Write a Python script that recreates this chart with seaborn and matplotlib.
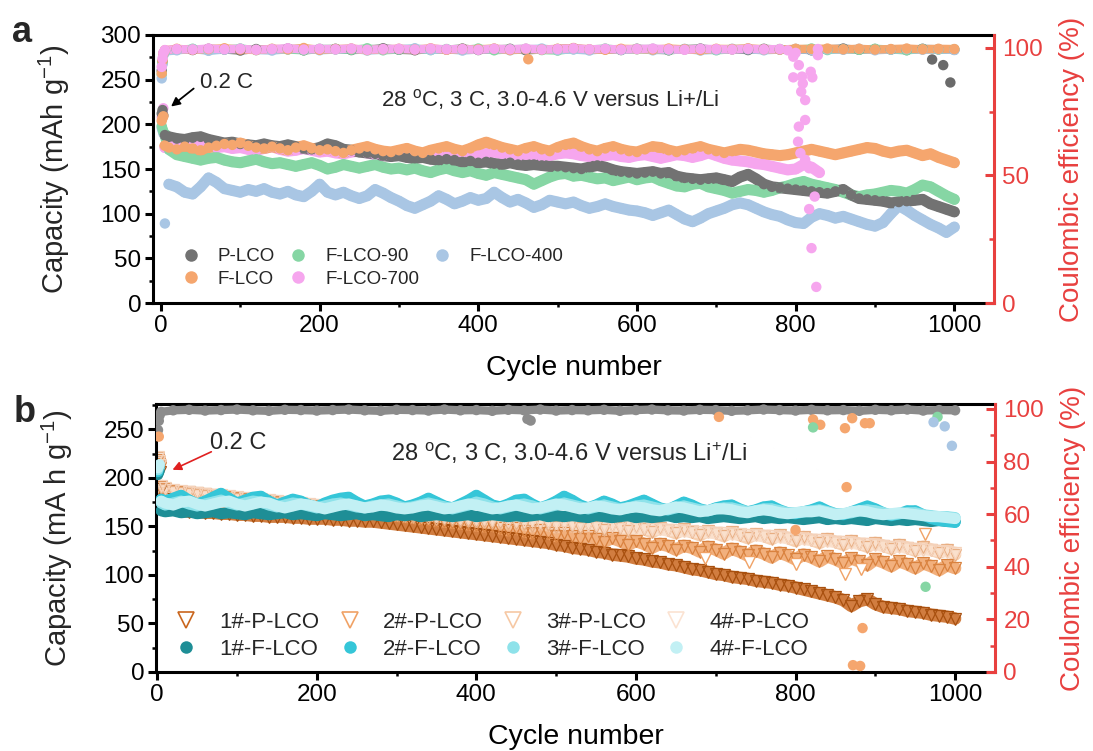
import matplotlib
matplotlib.use("Agg")
import matplotlib.pyplot as plt
from matplotlib.lines import Line2D
from matplotlib.ticker import MultipleLocator
import seaborn as sns

# ---------------- data : panel a ----------------
CYC_A = [1, 2, 3, 5, 10] + list(range(20, 1001, 10))
CYC_A700 = [1, 2, 3, 5, 10] + list(range(20, 831, 10))

P_LCO = [212, 216, 210, 188, 186,
         184, 183, 185, 186, 183, 181, 179, 180, 178, 177,
         176, 178, 176, 175, 177, 175, 173, 172, 174, 178,
         176, 172, 171, 169, 168, 167, 165, 164, 165, 163,
         162, 163, 161, 160, 161, 160, 158, 159, 157, 158,
         156, 155, 157, 155, 154, 155, 154, 153, 153, 152,
         151, 150, 152, 154, 152, 149, 147, 146, 145, 146,
         147, 145, 146, 142, 140, 139, 138, 139, 140, 138,
         136, 141, 144, 139, 133, 130, 129, 128, 127, 126,
         125, 124, 123, 125, 127, 121, 117, 116, 115, 114,
         112, 113, 114, 115, 116, 111, 108, 105, 102]
F_LCO = [204, 207, 209, 176, 174,
         172, 175, 173, 171, 174, 176, 178, 177, 179, 176,
         174, 173, 175, 173, 171, 174, 176, 173, 171, 172,
         170, 168, 171, 173, 175, 172, 170, 169, 171, 173,
         170, 168, 171, 173, 175, 172, 170, 173, 177, 180,
         177, 174, 172, 170, 173, 175, 172, 170, 174, 177,
         179, 175, 172, 170, 173, 175, 172, 170, 169, 172,
         175, 174, 171, 169, 171, 173, 175, 172, 170, 168,
         170, 172, 171, 169, 167, 166, 165, 166, 168, 170,
         172, 170, 168, 166, 168, 170, 172, 174, 173, 170,
         168, 170, 171, 168, 165, 167, 163, 160, 157]
F_LCO_90 = [198, 195, 192, 189, 172,
            166, 164, 162, 160, 162, 163, 160, 158, 157, 159,
            161, 158, 156, 157, 155, 153, 155, 157, 154, 150,
            152, 155, 153, 151, 153, 155, 152, 150, 151, 149,
            151, 148, 146, 149, 151, 148, 146, 148, 145, 143,
            146, 144, 142, 140, 138, 133, 137, 141, 144, 145,
            142, 143, 141, 139, 140, 137, 139, 141, 138, 140,
            141, 137, 134, 131, 130, 133, 134, 130, 128, 126,
            123, 125, 127, 126, 124, 126, 129, 131, 134, 136,
            133, 131, 129, 127, 124, 121, 119, 121, 122, 124,
            126, 125, 123, 127, 132, 130, 125, 120, 116]
F_LCO_400 = [196, 193, 190, 89, 133,
             130, 124, 122, 130, 140, 135, 128, 126, 124, 127,
             125, 128, 124, 122, 125, 121, 119, 125, 133, 124,
             121, 124, 120, 117, 120, 127, 123, 118, 114, 109,
             106, 110, 114, 120, 116, 111, 114, 118, 115, 117,
             124, 118, 113, 116, 112, 107, 110, 115, 113, 111,
             113, 109, 106, 108, 111, 108, 106, 104, 103, 101,
             98, 101, 104, 99, 94, 91, 95, 100, 103, 106,
             110, 112, 110, 106, 102, 99, 97, 93, 90, 89,
             96, 100, 98, 95, 97, 94, 91, 88, 86, 90,
             100, 109, 104, 98, 93, 88, 84, 79, 85]
F_LCO_700 = [208, 214, 218, 174, 176,
             178, 181, 183, 179, 176, 174, 175, 173, 174, 172,
             171, 173, 175, 172, 170, 171, 173, 171, 169, 170,
             168, 167, 169, 170, 168, 166, 165, 167, 169, 167,
             165, 166, 168, 166, 164, 166, 168, 167, 165, 167,
             169, 167, 165, 164, 166, 165, 164, 165, 167, 168,
             167, 165, 164, 163, 165, 166, 164, 163, 165, 166,
             164, 162, 164, 166, 165, 163, 165, 168, 165, 162,
             160, 159, 158, 156, 155, 153, 151, 149, 150, 155,
             152, 146]

CE_CYC_A = [1, 2, 3, 5] + list(range(20, 1001, 20))
CE_CYC_A700 = [1, 2, 3, 5] + list(range(20, 781, 20))
CE_P_A = [91.0, 94.5, 97.5, 98.8,
          99.4, 99.1, 99.6, 99.3, 98.9, 99.5, 99.2, 99.7, 99.0, 99.4,
          99.6, 99.1, 99.3, 99.8, 99.2, 99.0, 99.5, 99.3, 99.7, 99.1,
          99.4, 99.6, 99.0, 99.3, 99.5, 99.8, 99.2, 99.4, 99.1, 99.6,
          99.3, 99.0, 99.5, 99.7, 99.2, 99.4, 99.1, 99.6, 99.3, 99.5,
          99.0, 99.4, 99.7, 99.2, 99.5, 99.3, 99.1, 99.6, 99.4, 99.2]
CE_F_A = [90.0, 95.0, 97.8, 99.0,
          99.6, 99.2, 99.5, 99.8, 99.3, 99.1, 99.6, 99.4, 99.9, 99.2,
          99.5, 99.7, 99.1, 99.4, 99.6, 99.3, 99.8, 99.2, 99.5, 99.4,
          99.7, 99.1, 99.5, 99.3, 99.6, 99.9, 99.4, 99.2, 99.6, 99.5,
          99.3, 99.7, 99.4, 99.1, 99.6, 99.5, 99.8, 99.4, 99.3, 99.6,
          99.5, 99.7, 99.4, 99.6, 99.3, 99.5, 99.7, 99.4, 99.6, 99.5]
CE_90_A = [89.5, 94.0, 97.2, 98.6,
           99.2, 99.6, 99.0, 99.4, 99.7, 99.1, 99.5, 99.3, 99.0, 99.6,
           99.4, 99.2, 99.8, 99.0, 99.3, 99.6, 99.1, 99.5, 99.2, 99.7,
           99.0, 99.4, 99.6, 99.1, 98.9, 99.5, 99.3, 99.7, 99.2, 99.4,
           99.6, 99.1, 99.3, 99.5, 99.0, 99.4, 99.6, 99.2, 99.5, 99.3,
           99.7, 99.1, 99.4, 99.2, 99.6, 99.3, 99.0, 99.5, 99.3, 99.4]
CE_400_A = [88.0, 93.5, 97.0, 98.5,
            99.0, 99.5, 98.8, 99.3, 99.6, 99.1, 98.9, 99.4, 99.7, 99.0,
            99.3, 99.6, 98.9, 99.2, 99.5, 99.8, 99.1, 99.4, 98.9, 99.3,
            99.6, 99.0, 99.4, 99.7, 99.1, 99.3, 98.9, 99.5, 99.2, 99.6,
            99.0, 99.3, 99.5, 98.9, 99.2, 99.6, 99.4, 99.0, 99.3, 99.5,
            99.1, 99.4, 99.2, 99.6, 99.0, 99.3, 99.5, 99.2, 99.4, 99.1]
CE_700_A = [92.5, 95.8, 98.0, 99.1,
            99.5, 99.3, 99.7, 99.4, 99.6, 99.2, 99.5, 99.8, 99.3, 99.6,
            99.4, 99.7, 99.2, 99.5, 99.6, 99.3, 99.7, 99.4, 99.5, 99.2,
            99.6, 99.4, 99.7, 99.3, 99.5, 99.8, 99.4, 99.6, 99.3, 99.5,
            99.7, 99.4, 99.2, 99.6, 99.5, 99.3, 99.6, 99.4, 99.5]
CE_700_DROP_CYC = [790, 797, 797, 800, 803, 804, 804, 806, 807, 808, 809, 812,
                   812, 812, 817, 817, 819, 820, 821, 824, 826, 828, 828]
CE_700_DROP = [99.0, 96.5, 88.4, 98.0, 63.2, 93.2, 69.1, 58.7, 82.8, 88.7, 86.0, 79.5,
               71.7, 56.1, 52.8, 36.8, 90.6, 21.5, 88.4, 41.7, 6.3, 97.1, 99.5]
CE_P_OUT_CYC = [972, 986, 995]
CE_P_OUT = [95.4, 93.2, 86.4]
CE_F_OUT_CYC = [463]
CE_F_OUT = [95.5]

# ---------------- data : panel b ----------------
CYC_B = [1, 2, 3, 5, 10] + list(range(20, 1001, 10))
P1 = [214, 210, 206, 188, 178,
      168, 166, 165, 165, 164, 164, 163, 163, 162, 162,
      161, 161, 160, 160, 160, 159, 159, 158, 158, 158,
      157, 157, 156, 156, 155, 155, 154, 153, 152, 151,
      150, 149, 148, 147, 146, 145, 144, 143, 142, 141,
      140, 139, 138, 137, 136, 135, 134, 133, 131, 130,
      128, 127, 126, 124, 123, 121, 120, 119, 117, 116,
      114, 113, 111, 110, 108, 106, 105, 103, 101, 100,
      98, 97, 96, 94, 93, 92, 90, 89, 87, 85,
      83, 81, 79, 77, 74, 68, 73, 75, 70, 67,
      66, 65, 63, 62, 61, 59, 58, 57, 55]
P2 = [218, 214, 210, 191, 188,
      186, 185, 185, 184, 183, 182, 181, 180, 179, 178,
      177, 176, 176, 175, 174, 173, 172, 172, 171, 170,
      169, 168, 167, 166, 165, 164, 163, 162, 161, 160,
      159, 158, 157, 156, 155, 154, 153, 152, 151, 150,
      151, 148, 146, 148, 145, 143, 146, 143, 140, 143,
      140, 137, 140, 137, 134, 138, 135, 131, 135, 132,
      128, 132, 130, 126, 130, 128, 124, 129, 126, 122,
      127, 124, 120, 125, 122, 118, 123, 120, 116, 121,
      118, 114, 119, 116, 112, 117, 114, 110, 116, 113,
      109, 114, 111, 107, 112, 109, 105, 110, 107]
P3 = [220, 216, 212, 190, 187,
      185, 184, 183, 182, 181, 180, 180, 179, 178, 177,
      176, 176, 175, 174, 173, 173, 172, 171, 170, 169,
      168, 168, 167, 166, 165, 164, 163, 163, 162, 161,
      160, 160, 159, 158, 158, 157, 156, 156, 155, 155,
      154, 154, 153, 153, 152, 150, 153, 151, 149, 152,
      150, 148, 151, 149, 146, 150, 148, 145, 149, 147,
      144, 148, 146, 143, 147, 144, 141, 145, 143, 140,
      144, 141, 138, 142, 140, 137, 141, 138, 135, 139,
      136, 133, 137, 134, 131, 135, 132, 129, 133, 130,
      127, 131, 128, 125, 129, 126, 123, 126, 121]
P4 = [221, 217, 213, 192, 189,
      187, 186, 185, 184, 183, 182, 182, 181, 180, 179,
      178, 178, 177, 176, 175, 175, 174, 173, 172, 171,
      170, 170, 169, 168, 167, 166, 166, 165, 164, 164,
      163, 162, 162, 161, 160, 160, 159, 159, 158, 158,
      157, 157, 156, 156, 155, 155, 154, 154, 153, 153,
      152, 152, 151, 151, 150, 150, 149, 149, 148, 148,
      147, 147, 146, 146, 145, 145, 144, 144, 143, 143,
      142, 142, 141, 141, 140, 140, 139, 138, 138, 137,
      136, 136, 135, 134, 134, 133, 132, 132, 131, 130,
      129, 129, 128, 127, 126, 126, 125, 124, 123]
P2_OUT_CYC = [687, 742, 800, 862, 882, 962]
P2_OUT = [117, 113, 111, 101, 106, 142]
F1 = [203, 205, 207, 166, 165,
      166, 164, 165, 163, 164, 165, 163, 164, 163, 162,
      164, 163, 162, 163, 164, 162, 163, 162, 161, 163,
      162, 161, 162, 163, 161, 162, 161, 160, 162, 161,
      162, 160, 161, 162, 161, 160, 161, 162, 160, 161,
      162, 161, 160, 161, 160, 161, 162, 160, 161, 160,
      161, 160, 159, 161, 160, 159, 160, 161, 159, 160,
      159, 160, 161, 159, 160, 159, 160, 158, 159, 160,
      159, 158, 159, 160, 158, 159, 158, 159, 158, 157,
      158, 159, 157, 158, 157, 158, 157, 156, 158, 157,
      156, 157, 156, 157, 156, 155, 156, 155, 155]
F2 = [206, 209, 211, 178, 176,
      179, 182, 177, 173, 176, 180, 184, 179, 174, 177,
      180, 181, 176, 172, 175, 178, 176, 172, 170, 174,
      177, 179, 180, 175, 171, 173, 176, 177, 174, 170,
      172, 175, 179, 175, 171, 169, 173, 177, 182, 177,
      172, 170, 173, 177, 178, 173, 169, 172, 176, 181,
      177, 172, 169, 172, 176, 173, 169, 171, 174, 177,
      173, 169, 167, 171, 175, 172, 168, 166, 169, 171,
      172, 168, 165, 167, 170, 171, 167, 164, 163, 165,
      167, 170, 166, 163, 162, 165, 168, 171, 168, 164,
      161, 163, 166, 166, 162, 158, 156, 155, 154]
F3 = [208, 211, 213, 174, 172,
      174, 176, 173, 171, 173, 175, 177, 174, 172, 174,
      176, 175, 172, 170, 172, 174, 173, 171, 169, 171,
      173, 174, 172, 170, 169, 171, 172, 173, 171, 169,
      170, 172, 174, 172, 170, 168, 170, 172, 175, 173,
      170, 168, 170, 172, 173, 171, 168, 170, 172, 174,
      172, 170, 168, 170, 172, 170, 168, 169, 171, 172,
      170, 168, 167, 169, 171, 169, 167, 166, 168, 169,
      169, 167, 165, 166, 168, 168, 166, 164, 164, 165,
      166, 167, 165, 163, 163, 164, 166, 167, 166, 164,
      162, 163, 164, 164, 162, 161, 160, 160, 159]
F4 = [210, 212, 214, 176, 174,
      172, 175, 176, 173, 171, 173, 175, 176, 173, 171,
      173, 175, 174, 171, 169, 171, 173, 172, 170, 168,
      170, 172, 173, 171, 169, 170, 172, 171, 169, 168,
      169, 171, 172, 170, 168, 169, 171, 173, 172, 170,
      168, 169, 171, 172, 170, 168, 169, 171, 173, 172,
      170, 168, 169, 171, 170, 168, 167, 169, 170, 169,
      167, 166, 168, 170, 169, 167, 165, 166, 168, 168,
      167, 165, 164, 166, 167, 166, 164, 163, 164, 165,
      165, 166, 164, 162, 163, 165, 166, 165, 163, 162,
      163, 164, 163, 162, 161, 160, 160, 159, 158]

CE_CYC_B = [1, 2, 3, 5] + list(range(20, 1001, 20))
CE_B = [92.0, 95.5, 97.6, 98.9,
        99.5, 99.7, 99.4, 99.6, 99.8, 99.5, 99.3, 99.7, 99.6, 99.4,
        99.6, 99.8, 99.5, 99.3, 99.7, 99.6, 99.4, 99.8, 99.5, 99.6,
        99.3, 99.7, 99.5, 99.8, 99.4, 99.6, 99.5, 99.7, 99.3, 99.6,
        99.8, 99.5, 99.4, 99.7, 99.6, 99.3, 99.5, 99.8, 99.6, 99.4,
        99.7, 99.5, 99.6, 99.3, 99.7, 99.5, 99.8, 99.4, 99.6, 99.5]
CE_B_GRAY_OUT_CYC = [464, 468]
CE_B_GRAY_OUT = [96.2, 95.6]
CE_B_OR_CYC = [2, 704, 800, 822, 831, 862, 864, 871, 872, 881, 884, 887, 893]
CE_B_OR = [89.5, 97.0, 54.0, 96.0, 94.0, 92.7, 70.3, 96.5, 2.6, 2.3, 16.7, 94.6, 94.6]
CE_B_GR_CYC = [822, 963, 978]
CE_B_GR = [93.0, 32.4, 97.0]
CE_B_BL_CYC = [973, 987, 996]
CE_B_BL = [95.0, 93.4, 86.0]

# ---------------- style ----------------
sns.set_theme(style="ticks")
plt.rcParams["font.family"] = ["Liberation Sans", "DejaVu Sans"]
plt.rcParams["mathtext.fontset"] = "custom"
plt.rcParams["mathtext.rm"] = "Liberation Sans"
plt.rcParams["mathtext.it"] = "Liberation Sans:italic"
plt.rcParams["mathtext.bf"] = "Liberation Sans:bold"
plt.rcParams["mathtext.default"] = "regular"

RED = "#E8403F"
C_P, C_F, C_90, C_700, C_400 = "#727272", "#F5A66E", "#86D6A4", "#F6A6EE", "#A9C6E4"
C_P1, C_P2, C_P3, C_P4 = "#C9661E", "#F0A266", "#F6C8A4", "#FBE3D2"
C_F1, C_F2, C_F3, C_F4 = "#1E8E96", "#35C6D8", "#8EE2EA", "#C2F0F4"
C_CE = "#8C8C8C"

W, H = 1093, 751
fig = plt.figure(figsize=(W / 100, H / 100), dpi=100)
ax1 = fig.add_axes([153 / W, 1 - 303 / H, (994 - 153) / W, (303 - 35) / H])
ax2 = fig.add_axes([156 / W, 1 - 672 / H, (995 - 156) / W, (672 - 404) / H])
ax1r = ax1.twinx()
ax2r = ax2.twinx()


def dots(ax, x, y, color, ms=7.5, z=3):
    sns.scatterplot(x=x, y=y, ax=ax, color=color, s=ms ** 2, edgecolor="none",
                    linewidth=0, legend=False, zorder=z)


def band(ax, x, y, color, start=3, lw=8.0, ms=7.5, z=2):
    sns.lineplot(x=x[start:], y=y[start:], ax=ax, color=color, lw=lw, estimator=None,
                 sort=False, legend=False, zorder=z, solid_capstyle="round",
                 solid_joinstyle="round")
    dots(ax, x, y, color, ms=ms, z=z + 0.05)


def tri_band(ax, x, y, color, edge, start=3, lw=9.0, z=2):
    sns.lineplot(x=x[start:], y=y[start:], ax=ax, color=color, lw=lw, estimator=None,
                 sort=False, legend=False, zorder=z, alpha=0.85,
                 solid_capstyle="round", solid_joinstyle="round")
    ax.plot(x, y, ls="none", marker="v", ms=8.5, mfc="none", mec=edge, mew=0.9, zorder=z + 0.05)


# ---------------- panel a ----------------
band(ax1, CYC_A700, F_LCO_700, C_700)
band(ax1, CYC_A, F_LCO_400, C_400, start=4)
band(ax1, CYC_A, F_LCO_90, C_90)
band(ax1, CYC_A, P_LCO, C_P)
band(ax1, CYC_A, F_LCO, C_F)

band(ax1r, CE_CYC_A, CE_P_A, C_P, start=3, lw=6)
band(ax1r, CE_CYC_A, CE_90_A, C_90, start=3, lw=6)
band(ax1r, CE_CYC_A, CE_400_A, C_400, start=3, lw=6)
band(ax1r, CE_CYC_A, CE_F_A, C_F, start=3, lw=6)
band(ax1r, CE_CYC_A700, CE_700_A, C_700, start=3, lw=6)
dots(ax1r, CE_700_DROP_CYC, CE_700_DROP, C_700)
dots(ax1r, CE_P_OUT_CYC, CE_P_OUT, "#6A6A6A")
dots(ax1r, CE_F_OUT_CYC, CE_F_OUT, C_F)

# ---------------- panel b ----------------
tri_band(ax2, CYC_B, P1, C_P1, "#A8500F")
tri_band(ax2, CYC_B, P2, C_P2, "#D9823F")
tri_band(ax2, CYC_B, P3, C_P3, "#E8AE82")
tri_band(ax2, CYC_B, P4, C_P4, "#F5D2BA")
ax2.plot(P2_OUT_CYC, P2_OUT, ls="none", marker="v", ms=9, mfc="white", mec=C_P2, mew=1.0, zorder=3)
band(ax2, CYC_B, F1, C_F1, z=4)
band(ax2, CYC_B, F2, C_F2, z=4.2)
band(ax2, CYC_B, F3, C_F3, z=4.4)
band(ax2, CYC_B, F4, C_F4, z=4.6)

band(ax2r, CE_CYC_B, CE_B, C_CE, start=3, lw=6)
dots(ax2r, CE_B_GRAY_OUT_CYC, CE_B_GRAY_OUT, C_CE)
dots(ax2r, CE_B_OR_CYC, CE_B_OR, C_F)
dots(ax2r, CE_B_GR_CYC, CE_B_GR, C_90)
dots(ax2r, CE_B_BL_CYC, CE_B_BL, C_400)


# ---------------- axes styling ----------------
def style(ax, axr, xlim, ylim, yrlim, ymaj, ymin, yrmaj, yrmin):
    ax.set_xlim(*xlim)
    ax.set_ylim(*ylim)
    axr.set_ylim(*yrlim)
    ax.xaxis.set_major_locator(MultipleLocator(200))
    ax.xaxis.set_minor_locator(MultipleLocator(100))
    ax.yaxis.set_major_locator(MultipleLocator(ymaj))
    ax.yaxis.set_minor_locator(MultipleLocator(ymin))
    axr.yaxis.set_major_locator(MultipleLocator(yrmaj))
    axr.yaxis.set_minor_locator(MultipleLocator(yrmin))
    for s in ["left", "bottom", "top"]:
        ax.spines[s].set_linewidth(2.2)
        ax.spines[s].set_color("black")
        axr.spines[s].set_visible(False)
    ax.spines["right"].set_visible(False)
    axr.spines["right"].set_color(RED)
    axr.spines["right"].set_linewidth(2.2)
    ax.tick_params(which="major", direction="out", length=5.5, width=2.2, labelsize=17.5,
                   pad=3, color="black", labelcolor="black", top=False, right=False)
    ax.tick_params(which="minor", direction="out", length=3, width=1.8, color="black",
                   top=False, right=False)
    axr.tick_params(axis="y", which="major", direction="in", length=6.5, width=2.2,
                    colors=RED, labelsize=17.5, pad=6)
    axr.tick_params(axis="y", which="minor", direction="in", length=3.5, width=1.8, colors=RED)
    ax.set_xlabel("Cycle number", fontsize=20.5, color="black")
    ax.xaxis.set_label_coords(0.5, -0.195)
    axr.set_ylabel("Coulombic efficiency (%)", fontsize=20, color=RED)
    axr.yaxis.set_label_coords(1.077, 0.5)
    ax.grid(False)
    axr.grid(False)


style(ax1, ax1r, (-10, 1050), (0, 300), (0, 105), 50, 25, 50, 25)
style(ax2, ax2r, (-1.5, 1050), (0, 276), (0, 101.9), 50, 25, 20, 10)
ax1.set_ylabel("Capacity (mAh g$^{-1}$)", fontsize=21)
ax1.yaxis.set_label_coords(-0.096, 0.5)
ax2.set_ylabel("Capacity (mA h g$^{-1}$)", fontsize=21)
ax2.yaxis.set_label_coords(-0.097, 0.5)

# ---------------- annotations ----------------
fig.text(12 / W, 1 - 42 / H, "a", fontsize=26, fontweight="bold", va="baseline")
fig.text(14 / W, 1 - 422 / H, "b", fontsize=26, fontweight="bold", va="baseline")

fig.text(381 / W, 1 - 100 / H, "28 $^{\\mathrm{o}}$C, 3 C, 3.0-4.6 V versus Li+/Li",
         fontsize=16, va="center")
fig.text(200 / W, 1 - 83 / H, "0.2 C", fontsize=16, va="center")
ax1.annotate("", xy=(10, 218), xytext=(44, 242),
             arrowprops=dict(arrowstyle="-|>", color="black", lw=1.3, mutation_scale=13))

fig.text(391 / W, 1 - 453 / H, "28 $^{\\mathrm{o}}$C, 3 C, 3.0-4.6 V versus Li$^{+}$/Li",
         fontsize=17, va="center")
fig.text(210 / W, 1 - 443 / H, "0.2 C", fontsize=17, va="center")
ax2.annotate("", xy=(16, 207), xytext=(71, 228),
             arrowprops=dict(arrowstyle="-|>", color="#E02020", lw=1.2, mutation_scale=13))

# ---------------- legends ----------------
def dot_handle(c, label):
    return Line2D([], [], ls="none", marker="o", ms=9, mfc=c, mec="none", label=label)


def tri_handle(c, label):
    return Line2D([], [], ls="none", marker="v", ms=11, mfc="none", mec=c, mew=1.2, label=label)


ha = [dot_handle(C_P, "P-LCO"), dot_handle(C_F, "F-LCO"), dot_handle(C_90, "F-LCO-90"),
      dot_handle(C_700, "F-LCO-700"), dot_handle(C_400, "F-LCO-400")]
ax1.legend(handles=ha, ncol=3, loc="upper left", bbox_to_anchor=(0.034, 0.205),
           frameon=False, fontsize=13.5, handlelength=1.0, handletextpad=0.94,
           columnspacing=0.73, labelspacing=0.3, borderpad=0, borderaxespad=0)

hb = [tri_handle(C_P1, "1#-P-LCO"), dot_handle(C_F1, "1#-F-LCO"),
      tri_handle(C_P2, "2#-P-LCO"), dot_handle(C_F2, "2#-F-LCO"),
      tri_handle(C_P3, "3#-P-LCO"), dot_handle(C_F3, "3#-F-LCO"),
      tri_handle(C_P4, "4#-P-LCO"), dot_handle(C_F4, "4#-F-LCO")]
ax2.legend(handles=hb, ncol=4, loc="upper left", bbox_to_anchor=(0.0226, 0.224),
           frameon=False, fontsize=16, handlelength=1.0, handletextpad=0.99,
           columnspacing=0.86, labelspacing=0.25, borderpad=0, borderaxespad=0)

fig.savefig("out.png", dpi=100, facecolor="white")
